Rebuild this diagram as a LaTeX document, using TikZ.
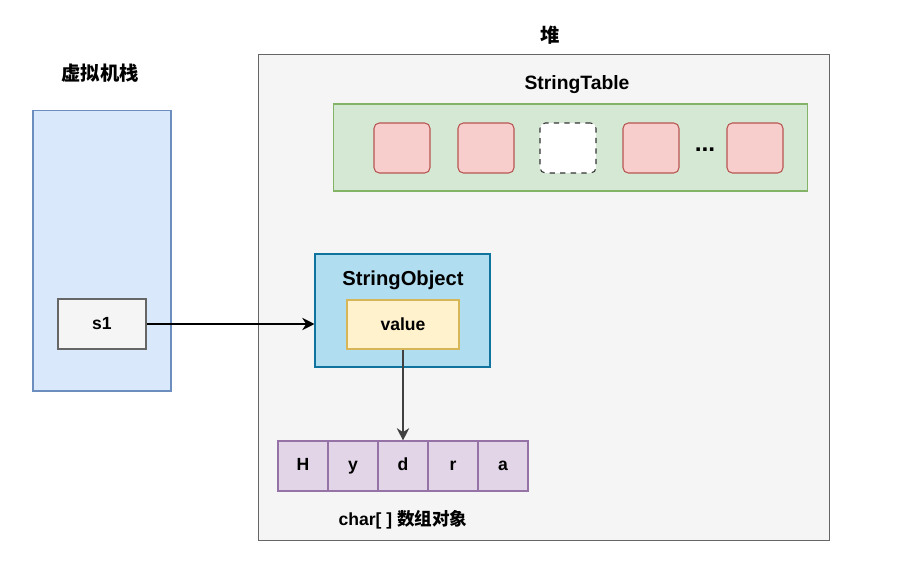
\documentclass[tikz,border=0pt]{standalone}
\usepackage{fontspec}
\setmainfont{Liberation Sans}
\newfontfamily\cjk{Noto Sans CJK SC}
\usepackage{xcolor}
\usepackage{tikz}
\usetikzlibrary{arrows.meta, positioning, calc}

\definecolor{stackfill}{HTML}{DAE8FC}
\definecolor{stackline}{HTML}{6C8EBF}
\definecolor{greyfill}{HTML}{F5F5F5}
\definecolor{greyline}{HTML}{666666}
\definecolor{tabfill}{HTML}{D5E8D4}
\definecolor{tabline}{HTML}{82B366}
\definecolor{slotfill}{HTML}{F8CECC}
\definecolor{slotline}{HTML}{B85450}
\definecolor{objfill}{HTML}{B1DDF0}
\definecolor{objline}{HTML}{10739E}
\definecolor{valfill}{HTML}{FFF2CC}
\definecolor{valline}{HTML}{D6B656}
\definecolor{arrfill}{HTML}{E1D5E7}
\definecolor{arrline}{HTML}{9673A6}

\begin{document}
\begin{tikzpicture}[x=0.02cm, y=-0.02cm,
    box/.style={rectangle, draw, line width=0.6pt, inner sep=0pt},
    slot/.style={box, rounded corners=3pt, fill=slotfill, draw=slotline, minimum width=1.12cm, minimum height=1cm},
    cell/.style={box, fill=arrfill, draw=arrline, minimum size=1cm, text height=7pt, text depth=2pt, font=\fontsize{10}{12}\selectfont\bfseries},
    lbl/.style={font=\fontsize{11}{13}\selectfont\bfseries, inner sep=0pt},
    ptr/.style={-{Stealth[length=7pt, width=7pt]}, line width=0.7pt}]
    \useasboundingbox (0,0) rectangle (914,578);
    % stack
    \node[lbl] (stk-t) at (100,73) {\cjk\bfseries 虚拟机栈};
    \node[box, fill=stackfill, draw=stackline, minimum width=2.76cm, minimum height=5.62cm] (stk) at (102,250.5) {};
    \node[box, fill=greyfill, draw=greyline, minimum width=1.76cm, minimum height=1cm, font=\fontsize{10}{12}\selectfont\bfseries] (s1) at (102,324) {s1};
    % heap
    \node[lbl] (heap-t) at (550,35) {\cjk\bfseries 堆};
    \node[box, fill=greyfill, draw=greyline, minimum width=11.44cm, minimum height=9.74cm] (heap) at (544,297.5) {};
    % string table
    \node[lbl] (tab-t) at (577,85) {StringTable};
    \node[box, fill=tabfill, draw=tabline, minimum width=9.5cm, minimum height=1.74cm] (tab) at (570.5,147.5) {};
    \foreach \x/\n in {402/1, 486/2, 651/4, 755/5}
        \node[slot] (t\n) at (\x,148) {};
    \node[slot, fill=white, draw=black!80, dashed] (t3) at (568,148) {};
    \node[font=\fontsize{14}{14}\selectfont\bfseries, inner sep=0pt] (dots) at (705,150) {...};
    % string object
    \node[box, fill=objfill, draw=objline, minimum width=3.5cm, minimum height=2.26cm] (obj) at (402.5,310.5) {};
    \node[lbl, font=\fontsize{11.5}{13}\selectfont\bfseries] (obj-t) at (403,280) {StringObject};
    \node[box, fill=valfill, draw=valline, minimum width=2.24cm, minimum height=0.98cm, font=\fontsize{10}{12}\selectfont\bfseries] (val) at (403,324.5) {value};
    % char array
    \foreach \c [count=\i] in {H,y,d,r,a}
        \node[cell] (c\i) at (253+50*\i,466) {\c};
    \node[lbl, font=\fontsize{10}{12}\selectfont\bfseries] (arr-t) at (403,520) {char[ ] {\cjk\bfseries 数组对象}};
    \draw[ptr] (s1.east) -- (s1.east -| obj.west);
    \draw[ptr, black!75] (val) -- (c3);
\end{tikzpicture}
\end{document}
